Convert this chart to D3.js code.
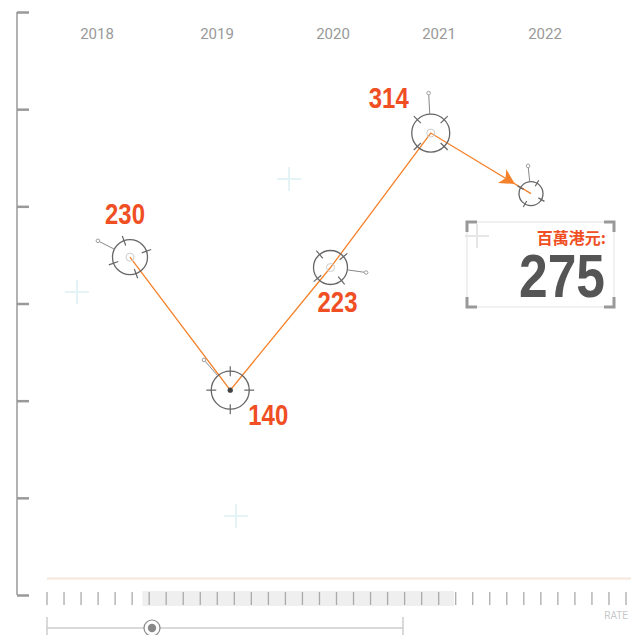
<!DOCTYPE html>
<html>
<head>
<meta charset="utf-8">
<script src="https://cdn.jsdelivr.net/npm/d3@7.9.0/dist/d3.min.js"></script>
<style>
  html, body { margin: 0; padding: 0; background: #fff; }
  svg { display: block; }
</style>
</head>
<body>
<div id="viz"></div>
<script>
// Data
const years = [2018, 2019, 2020, 2021, 2022];
const values = [230, 140, 223, 314, 273];
const labelled = [true, true, true, true, false];
const readoutUnit = "百萬港元:";
const readoutValue = 275;

// marker decoration (per point): radius, tick rotation, leader angle/length, centre style, label offset
const markerStyle = [
  { r: 17.5, rot: -20, lead: -153, len: 36, centre: "ring", dx: -5, dy: -33 },
  { r: 19, rot: 0, lead: -131, len: 40, centre: "dot", dx: 38, dy: 35 },
  { r: 17, rot: 50, lead: 8, len: 36, centre: "ring", dx: 7, dy: 44 },
  { r: 19, rot: 45, lead: -93, len: 40, centre: "ring", dx: -42, dy: -25 },
  { r: 12, rot: 30, lead: -96, len: 28, centre: "none", dx: 0, dy: 0 }
];

const W = 636, H = 635;
const orange = "#f5822a", labelColor = "#f04e23";
// no condensed face installed: squeeze a bold sans with textLength
const numFont = "'Liberation Sans', Arimo, sans-serif";

const svg = d3.select("#viz").append("svg")
  .attr("width", W).attr("height", H);

// scales
const x = d3.scalePoint().domain(years).range([130, 531]);
const y = d3.scaleLinear().domain([0, 400]).range([597, 6]);
const yearX = d3.scaleLinear().domain([2018, 2019, 2020, 2022]).range([97, 217, 333, 545]);

// faint background crosses
const crosses = [[77, 292, "#e4f3f5"], [289, 179, "#e4f3f5"], [236, 516, "#e4f3f5"], [477, 236, "#e6e6e6"]];
crosses.forEach(([cx, cy, c]) => {
  const g = svg.append("g").attr("stroke", c).attr("stroke-width", 2);
  g.append("line").attr("x1", cx - 12).attr("x2", cx + 12).attr("y1", cy).attr("y2", cy);
  g.append("line").attr("x1", cx).attr("x2", cx).attr("y1", cy - 12).attr("y2", cy + 12);
});

// left decorative axis
const yAxisScale = d3.scaleLinear().domain([0, 6]).range([595, 12]);
const yAxis = svg.append("g")
  .attr("transform", "translate(17,0)")
  .call(d3.axisRight(yAxisScale).ticks(6).tickSize(12).tickFormat(""));
yAxis.select(".domain").attr("stroke", "#999").attr("stroke-width", 1.5).attr("d", "M0,12V595");
yAxis.selectAll(".tick line").attr("stroke", "#999").attr("stroke-width", 2.5);

// year labels
svg.append("g").selectAll("text")
  .data(years)
  .join("text")
  .attr("x", d => yearX(d))
  .attr("y", 39)
  .attr("text-anchor", "middle")
  .attr("fill", "#999")
  .style("font-family", "Roboto, 'Open Sans', sans-serif")
  .style("font-size", "15px")
  .text(d => d);

const pts = years.map((yr, i) => ({ year: yr, value: values[i], s: markerStyle[i], label: labelled[i] }));

// connecting line
svg.append("path")
  .datum(pts)
  .attr("fill", "none")
  .attr("stroke", orange)
  .attr("stroke-width", 1.3)
  .attr("d", d3.line().x(d => x(d.year)).y(d => y(d.value)));

// arrow head on last segment
{
  const a = pts[3], b = pts[4];
  const x0 = x(a.year), y0 = y(a.value), x1 = x(b.year), y1 = y(b.value);
  const ang = Math.atan2(y1 - y0, x1 - x0) * 180 / Math.PI;
  const t = 0.84;
  svg.append("path")
    .attr("d", "M0,0L-15,-8L-11,0L-15,8Z")
    .attr("fill", orange)
    .attr("transform", `translate(${x0 + (x1 - x0) * t},${y0 + (y1 - y0) * t}) rotate(${ang})`);
}

// markers
const rad = Math.PI / 180;
const markers = svg.append("g").selectAll("g")
  .data(pts)
  .join("g")
  .attr("transform", d => `translate(${x(d.year)},${y(d.value)})`);

markers.append("circle")
  .attr("r", d => d.s.r)
  .attr("fill", "none")
  .attr("stroke", "#666")
  .attr("stroke-width", 1.3);

markers.each(function (d) {
  const g = d3.select(this);
  const r = d.s.r;
  [0, 90, 180, 270].forEach(k => {
    const a = (k + d.s.rot) * rad;
    const tl = r > 15 ? 5 : 3.5;
    g.append("line")
      .attr("x1", Math.cos(a) * (r - tl)).attr("y1", Math.sin(a) * (r - tl))
      .attr("x2", Math.cos(a) * (r + tl)).attr("y2", Math.sin(a) * (r + tl))
      .attr("stroke", "#666").attr("stroke-width", 1.2);
  });
  const la = d.s.lead * rad;
  g.append("line")
    .attr("x1", Math.cos(la) * r).attr("y1", Math.sin(la) * r)
    .attr("x2", Math.cos(la) * (d.s.len - 2)).attr("y2", Math.sin(la) * (d.s.len - 2))
    .attr("stroke", "#888").attr("stroke-width", 1);
  g.append("circle")
    .attr("cx", Math.cos(la) * d.s.len).attr("cy", Math.sin(la) * d.s.len)
    .attr("r", 1.8).attr("fill", "#fff").attr("stroke", "#888").attr("stroke-width", 0.8);
  if (d.s.centre === "ring") {
    g.append("circle").attr("r", 4).attr("fill", "none").attr("stroke", "#ccc").attr("stroke-width", 1);
  } else if (d.s.centre === "dot") {
    g.append("circle").attr("r", 2.6).attr("fill", "#444");
  }
});

// value labels (condensed look)
markers.filter(d => d.label).append("text")
  .attr("x", d => d.s.dx)
  .attr("y", d => d.s.dy)
  .attr("text-anchor", "middle")
  .attr("fill", labelColor)
  .attr("textLength", d => String(d.value).length * 13.3)
  .attr("lengthAdjust", "spacingAndGlyphs")
  .style("font-family", numFont)
  .style("font-weight", "bold")
  .style("font-size", "29px")
  .text(d => d.value);

// readout box
{
  const bx = 467, by = 222, bw = 147, bh = 85, c = 10;
  svg.append("rect").attr("x", bx).attr("y", by).attr("width", bw).attr("height", bh)
    .attr("fill", "none").attr("stroke", "#e2e2e2").attr("stroke-width", 1);
  const corners = [
    `M${bx},${by + c}V${by}H${bx + c}`,
    `M${bx + bw - c},${by}H${bx + bw}V${by + c}`,
    `M${bx},${by + bh - c}V${by + bh}H${bx + c}`,
    `M${bx + bw - c},${by + bh}H${bx + bw}V${by + bh - c}`
  ];
  svg.append("g").selectAll("path").data(corners).join("path")
    .attr("d", d => d).attr("fill", "none").attr("stroke", "#999").attr("stroke-width", 3);
  svg.append("text")
    .attr("x", 606).attr("y", 244)
    .attr("text-anchor", "end")
    .attr("fill", labelColor)
    .style("font-family", "'Noto Sans CJK TC', sans-serif")
    .style("font-weight", "bold")
    .style("font-size", "16px")
    .text(readoutUnit);
  svg.append("text")
    .attr("x", 605).attr("y", 297)
    .attr("text-anchor", "end")
    .attr("fill", "#555")
    .attr("textLength", 86)
    .attr("lengthAdjust", "spacingAndGlyphs")
    .style("font-family", numFont)
    .style("font-weight", "bold")
    .style("font-size", "62px")
    .text(readoutValue);
}

// bottom timeline
svg.append("line").attr("x1", 47).attr("x2", 631).attr("y1", 578.5).attr("y2", 578.5)
  .attr("stroke", "#f6e6da").attr("stroke-width", 2);

const tickX = d3.scaleLinear().domain([0, 34]).range([47, 626]);
const band = [5.6, 23.9];
svg.append("rect")
  .attr("x", tickX(band[0])).attr("width", tickX(band[1]) - tickX(band[0]))
  .attr("y", 591).attr("height", 15)
  .attr("fill", "#efefef");
svg.append("g").selectAll("line")
  .data(d3.range(35))
  .join("line")
  .attr("x1", d => tickX(d)).attr("x2", d => tickX(d))
  .attr("y1", 592).attr("y2", 605)
  .attr("stroke", "#aaa").attr("stroke-width", 1.3);

svg.append("text")
  .attr("x", 628).attr("y", 619)
  .attr("text-anchor", "end")
  .attr("fill", "#c8c8c8")
  .style("font-family", "Roboto, sans-serif")
  .style("font-size", "10px")
  .text("RATE");

// slider
const slider = svg.append("g").attr("stroke", "#ccc").attr("stroke-width", 1.5);
slider.append("line").attr("x1", 47).attr("x2", 403).attr("y1", 628).attr("y2", 628);
slider.append("line").attr("x1", 47).attr("x2", 47).attr("y1", 617).attr("y2", 635);
slider.append("line").attr("x1", 403).attr("x2", 403).attr("y1", 617).attr("y2", 635);
svg.append("circle").attr("cx", 152).attr("cy", 628).attr("r", 8)
  .attr("fill", "#fff").attr("stroke", "#888").attr("stroke-width", 1.2);
svg.append("circle").attr("cx", 152).attr("cy", 628).attr("r", 4.2).attr("fill", "#888");
</script>
</body>
</html>
